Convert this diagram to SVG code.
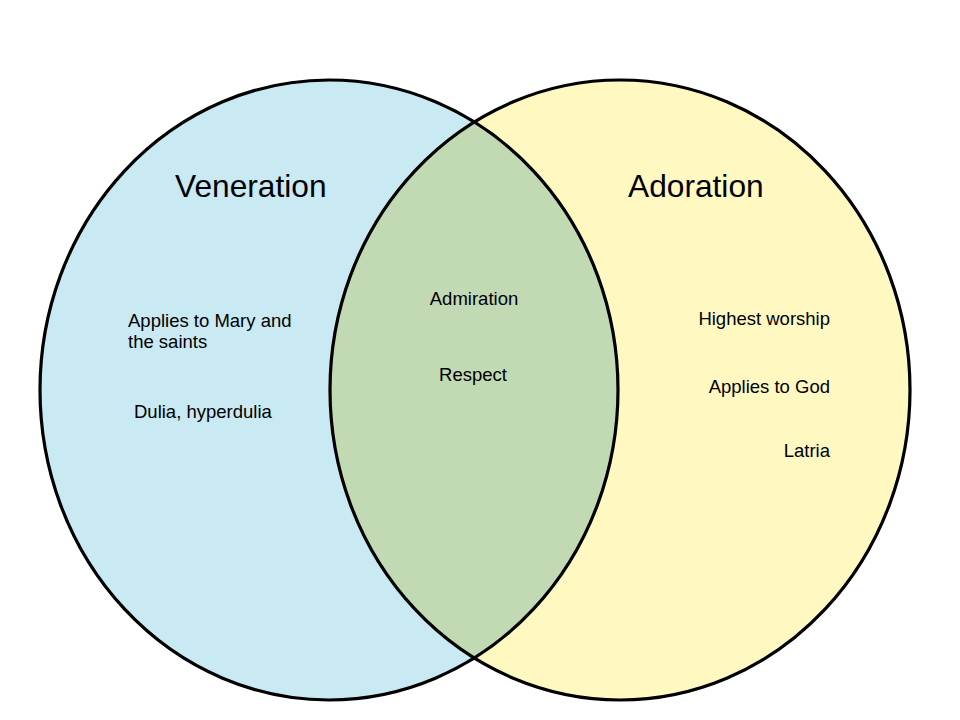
<svg xmlns="http://www.w3.org/2000/svg" width="960" height="720" viewBox="0 0 960 720">
<style>
.set{stroke:none}
.outline{fill:none;stroke:#000;stroke-width:3.2}
.title{font-family:"Liberation Sans",Arial,sans-serif;font-size:31.7px;fill:#000}
.item{font-family:"Liberation Sans",Arial,sans-serif;font-size:18.5px;fill:#000}
</style>
<defs>
<clipPath id="clipLeft"><ellipse cx="329" cy="390" rx="289" ry="310"/></clipPath>
</defs>
<rect width="960" height="720" fill="#fff"/>
<g id="veneration">
<ellipse class="set" cx="329" cy="390" rx="289" ry="310" fill="#c9e9f3"/>
</g>
<g id="adoration">
<ellipse class="set" cx="620" cy="390" rx="290" ry="310" fill="#fff9c1"/>
</g>
<g id="overlap">
<ellipse class="set" cx="620" cy="390" rx="290" ry="310" fill="#c2dab4" clip-path="url(#clipLeft)"/>
</g>
<g id="outlines">
<ellipse class="outline" cx="329" cy="390" rx="289" ry="310"/>
<ellipse class="outline" cx="620" cy="390" rx="290" ry="310"/>
</g>
<g id="labels-veneration">
<text class="title" x="175" y="197">Veneration</text>
<text class="item" x="128" y="327">Applies to Mary and</text>
<text class="item" x="128" y="348">the saints</text>
<text class="item" x="134" y="418">Dulia, hyperdulia</text>
</g>
<g id="labels-overlap">
<text class="item" x="474" y="305" text-anchor="middle">Admiration</text>
<text class="item" x="473" y="381" text-anchor="middle">Respect</text>
</g>
<g id="labels-adoration">
<text class="title" x="628" y="197">Adoration</text>
<text class="item" x="830" y="325" text-anchor="end">Highest worship</text>
<text class="item" x="830" y="393" text-anchor="end">Applies to God</text>
<text class="item" x="830" y="457" text-anchor="end">Latria</text>
</g>
</svg>
